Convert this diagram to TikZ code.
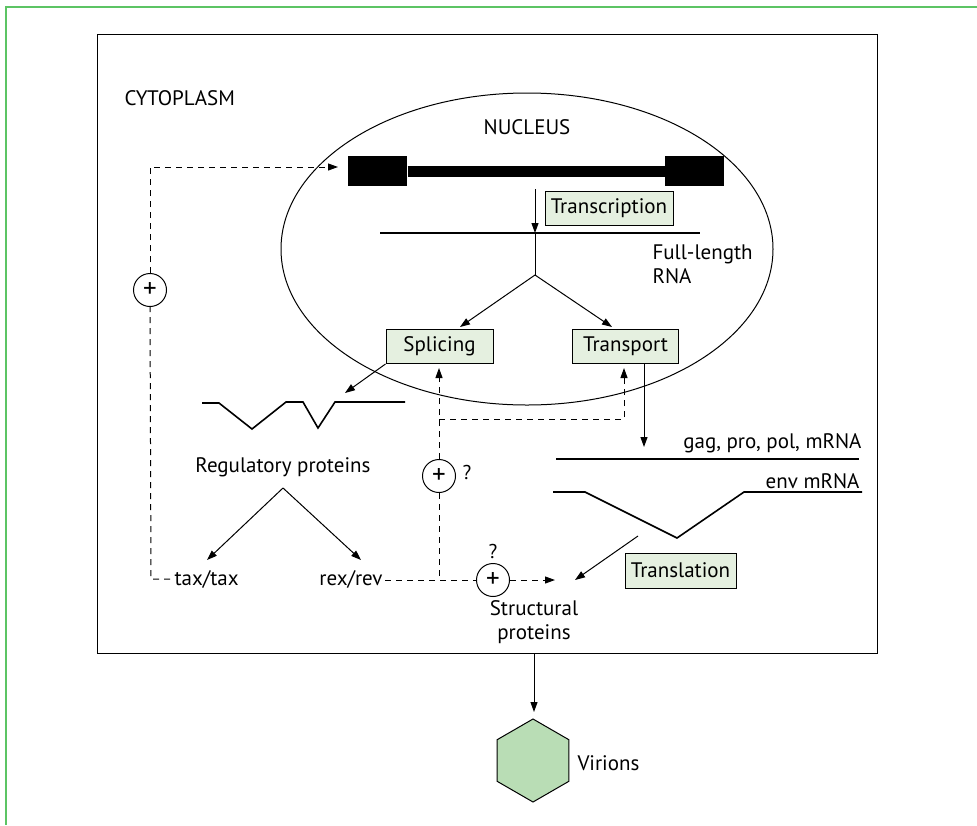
\documentclass[tikz,border=0pt]{standalone}
\usepackage{fontspec}
\setmainfont{PT Sans}
\usetikzlibrary{arrows.meta,shapes.geometric}
\definecolor{boxgreen}{RGB}{229,240,224}
\definecolor{hexgreen}{RGB}{185,221,181}
\definecolor{framegreen}{RGB}{92,196,100}
\begin{document}
\begin{tikzpicture}[x=1pt,y=-1pt,line width=1pt,
  txt/.style={font=\fontsize{21}{24}\selectfont, inner sep=0pt, align=center},
  proc/.style={draw, fill=boxgreen, minimum height=34pt, inner sep=0pt, font=\fontsize{21}{24}\selectfont},
  plus/.style={circle, draw, minimum size=33pt, inner sep=0pt, font=\fontsize{27}{28}\selectfont},
  qm/.style={inner sep=0pt, font=\fontsize{20}{24}\selectfont},
  arr/.style={-{Triangle[length=10pt,width=7pt]}},
  dsh/.style={dash pattern=on 6pt off 5pt},
  rna/.style={line width=1.6pt}]
\useasboundingbox (0,0) rectangle (977,825);
% frame
\coordinate (fr1) at (977,7);
\coordinate (fr2) at (6,7);
\coordinate (fr3) at (6,825);
\draw[framegreen, line width=2pt] (fr1) -- (fr2) -- (fr3);
% cell
\node[draw, anchor=north west, minimum width=780pt, minimum height=619pt, inner sep=0pt] (cell) at (97,34) {};
\node[txt, anchor=west] (cyto) at (124,98) {CYTOPLASM};
% nucleus
\node[draw, ellipse, minimum width=492pt, minimum height=312pt, inner sep=0pt] (nucleus) at (527,249) {};
\node[txt] (nuclab) at (527,127) {NUCLEUS};
% gene
\node[fill=black, minimum width=59pt, minimum height=30pt, inner sep=0pt] (gl) at (377.5,171) {};
\node[fill=black, minimum width=59pt, minimum height=30pt, inner sep=0pt] (gr) at (694.5,171) {};
\draw[line width=11pt] (gl.east) -- (gr.west);
% transcription
\coordinate (ts) at (535,189);
\coordinate (te) at (535,233);
\coordinate (apex) at (535,275);
\node[proc, minimum width=128pt] (transc) at (609,208) {Transcription};
\coordinate (fla) at (380,233);
\coordinate (flb) at (700,233);
\draw[rna] (fla) -- (flb);
\node[txt, anchor=west, align=left] (fl) at (652,264) {Full-length\\RNA};
\draw[arr] (ts) -- (te);
\draw (te) -- (apex);
% splicing / transport
\node[proc, minimum width=107pt] (splice) at (439.5,346.5) {Splicing};
\node[proc, minimum width=106pt] (transp) at (625.5,346.5) {Transport};
\coordinate (stip) at (460,327);
\coordinate (ttip) at (612,327);
\draw[arr] (apex) -- (stip);
\draw[arr] (apex) -- (ttip);
% spliced RNA
\coordinate (sp0) at (202,403);
\coordinate (sp1) at (219,403);
\coordinate (sp2) at (252,429);
\coordinate (sp3) at (286,402);
\coordinate (sp4) at (303,402);
\coordinate (sp5) at (318,428);
\coordinate (sp6) at (335,402);
\coordinate (sp7) at (405,402);
\draw[rna] (sp0) -- (sp1) -- (sp2) -- (sp3) -- (sp4) -- (sp5) -- (sp6) -- (sp7);
\coordinate (sptip) at (345,393);
\draw[arr] (splice.south west) -- (sptip);
% regulatory proteins
\node[txt] (reg) at (283,467) {Regulatory proteins};
\coordinate (rapex) at (283,488);
\coordinate (taxtip) at (207,560);
\coordinate (rextip) at (361,560);
\draw[arr] (rapex) -- (taxtip);
\draw[arr] (rapex) -- (rextip);
\node[txt, anchor=west] (tax) at (174,579) {tax/tax};
\node[txt, anchor=east] (rex) at (383,579) {rex/rev};
% plus circles
\node[plus] (p1) at (150,290) {+};
\node[plus] (p2) at (439,476) {+};
\node[qm] (q2) at (467,472) {?};
\node[plus] (p3) at (493,580) {+};
\node[qm] (q3) at (493,551) {?};
% dashed feedback loops
\coordinate (taxend) at (170,579);
\coordinate (lcorner) at (151,579);
\draw[dsh] (taxend) -- (lcorner) -- (p1.south);
\coordinate (gtip) at (338,167);
\draw[dsh, arr] (p1.north) |- (gtip);
\coordinate (rexend) at (385,580);
\draw[dsh] (rexend) -- (p3.west);
\draw[dsh] (p2.south) -- (p2.south |- p3.west);
\coordinate (sin) at (439,368);
\coordinate (tin) at (624,368);
\coordinate (hj) at (439,419);
\draw[dsh, arr] (p2.north) -- (sin);
\draw[dsh, arr] (hj) -| (tin);
\coordinate (sptip2) at (555,580);
\draw[dsh, arr] (p3.east) -- (sptip2);
% transport to mRNAs
\coordinate (tdown) at (644,363);
\coordinate (tdtip) at (644,447);
\draw[arr] (tdown) -- (tdtip);
\node[txt, anchor=east] (gag) at (862,443) {gag, pro, pol, mRNA};
\coordinate (ga) at (556,459);
\coordinate (gb) at (859,459);
\draw[rna] (ga) -- (gb);
\node[txt, anchor=east] (env) at (860,481) {env mRNA};
\coordinate (e0) at (553,492);
\coordinate (e1) at (585,492);
\coordinate (e2) at (677,538);
\coordinate (e3) at (744,492);
\coordinate (e4) at (862,492);
\draw[rna] (e0) -- (e1) -- (e2) -- (e3) -- (e4);
% translation
\node[proc, minimum width=111pt, minimum height=35pt] (transl) at (680.5,570.5) {Translation};
\coordinate (tls) at (638,536);
\coordinate (tlt) at (575,580);
\draw[arr] (tls) -- (tlt);
\node[txt] (struct) at (534,622) {Structural\\proteins};
% virions
\coordinate (vs) at (534,653);
\coordinate (vt) at (534,712);
\draw[arr] (vs) -- (vt);
\node[regular polygon, regular polygon sides=6, shape border rotate=30, draw, fill=hexgreen, minimum size=83pt, inner sep=0pt] (hex) at (533,760.5) {};
\node[txt, anchor=west] (vir) at (577,763) {Virions};
\end{tikzpicture}
\end{document}
